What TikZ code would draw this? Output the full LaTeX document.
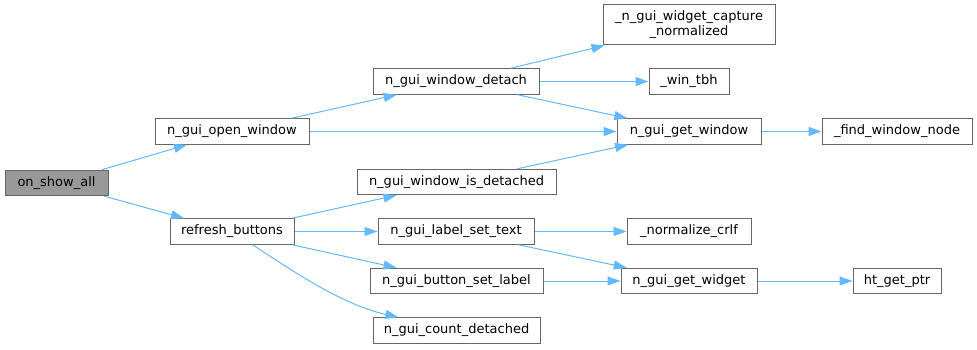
\documentclass[tikz,border=0pt]{standalone}
\usepackage{fontspec}
\setmainfont{DejaVu Sans}
\usetikzlibrary{arrows.meta}
\definecolor{edgecol}{HTML}{63B8FF}
\definecolor{bordercol}{HTML}{666666}
\definecolor{rootfill}{HTML}{999999}
\begin{document}
\begin{tikzpicture}[x=1pt,y=1pt,
  fn/.style={draw=bordercol, fill=white, line width=1pt, inner sep=0pt, minimum height=25.5pt,
    font=\fontsize{13}{15}\selectfont, align=center, text=black},
  root/.style={fn, fill=rootfill},
  edge/.style={draw=edgecol, line width=1pt, -{Triangle[length=13pt,width=9pt]}}]
\useasboundingbox (0,0) rectangle (977,349);
\node[root, minimum width=103pt] (osa) at (56.5,166) {on\_show\_all};
\node[fn, minimum width=154pt] (ow) at (232,217.5) {n\_gui\_open\_window};
\node[fn, minimum width=124pt] (rb) at (232,117.5) {refresh\_buttons};
\node[fn, minimum width=166pt] (wd) at (456,267.5) {n\_gui\_window\_detach};
\node[fn, minimum width=199pt] (wid) at (456.5,167) {n\_gui\_window\_is\_detached};
\node[fn, minimum width=172pt, minimum height=40pt] (cap) at (689,324) {\_n\_gui\_widget\_capture\\\_normalized};
\node[fn, minimum width=80pt] (tbh) at (689,267.5) {\_win\_tbh};
\node[fn, minimum width=144pt] (gw) at (689,217.5) {n\_gui\_get\_window};
\node[fn, minimum width=150pt] (fwn) at (897,217.5) {\_find\_window\_node};
\node[fn, minimum width=156pt] (lst) at (456,117.5) {n\_gui\_label\_set\_text};
\node[fn, minimum width=173pt] (bsl) at (456.5,68) {n\_gui\_button\_set\_label};
\node[fn, minimum width=167pt] (cd) at (456.5,18.5) {n\_gui\_count\_detached};
\node[fn, minimum width=124pt] (nc) at (689,117.5) {\_normalize\_crlf};
\node[fn, minimum width=136pt] (gwi) at (689,68) {n\_gui\_get\_widget};
\node[fn, minimum width=88pt] (htp) at (897,68) {ht\_get\_ptr};

\draw[edge] (osa) -- (ow);
\draw[edge] (osa) -- (rb);
\draw[edge] (ow) -- (wd);
\draw[edge] (ow) -- (gw);
\draw[edge] (rb) -- (wid);
\draw[edge] (rb) -- (lst);
\draw[edge] (rb) -- (bsl);
\draw[edge] (rb) .. controls (290,80) and (340,45) .. (cd);
\draw[edge] (wd) -- (cap);
\draw[edge] (wd) -- (tbh);
\draw[edge] (wd) -- (gw);
\draw[edge] (wid) -- (gw);
\draw[edge] (gw) -- (fwn);
\draw[edge] (lst) -- (nc);
\draw[edge] (lst) -- (gwi);
\draw[edge] (bsl) -- (gwi);
\draw[edge] (gwi) -- (htp);
\end{tikzpicture}
\end{document}
